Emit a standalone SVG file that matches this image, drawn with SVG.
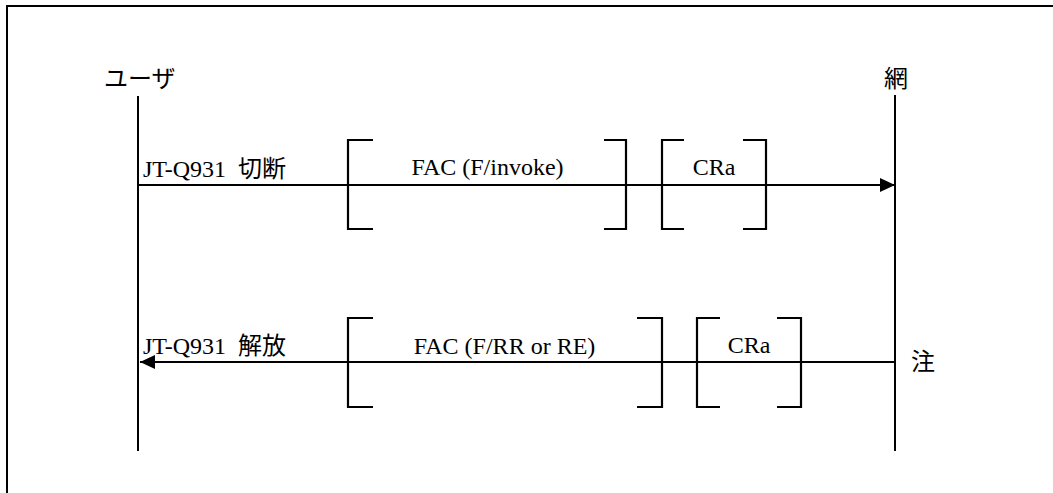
<svg xmlns="http://www.w3.org/2000/svg" width="1053" height="493" viewBox="0 0 1053 493">
<style>
.t{font-family:"Liberation Serif","Noto Sans CJK JP",serif;font-size:24px;fill:#000;white-space:pre}
.m{text-anchor:middle}
.ln{stroke:#000;stroke-width:2;fill:none}
.br{stroke:#000;stroke-width:2.2;fill:none}
</style>
<defs>
<marker id="ah" markerWidth="15" markerHeight="14" refX="15" refY="7" orient="auto" markerUnits="userSpaceOnUse">
<path d="M0,0 L15,7 L0,14 Z" fill="#000"/>
</marker>
</defs>
<rect x="0" y="0" width="1053" height="493" fill="#fff"/>
<g id="frame"><rect x="7" y="6" width="1070" height="520" class="ln"/></g>
<g id="user">
<text class="t" x="104" y="87">ユーザ</text>
<line x1="138" y1="96" x2="138" y2="451" class="ln"/>
</g>
<g id="network">
<text class="t" x="884" y="87">網</text>
<line x1="895" y1="95" x2="895" y2="451" class="ln"/>
</g>
<g id="connectors">
<line x1="138" y1="185" x2="895" y2="185" class="ln" marker-end="url(#ah)"/>
<line x1="895" y1="362" x2="140" y2="362" class="ln" marker-end="url(#ah)"/>
</g>
<g id="msg1">
<text class="t" x="143" y="177">JT-Q931  切断</text>
<path class="br" d="M373,140 H348 V229 H373"/>
<path class="br" d="M604,140 H626 V229 H604"/>
<text class="t m" x="487.5" y="175">FAC (F/invoke)</text>
<path class="br" d="M684,140 H662 V229 H684"/>
<path class="br" d="M743,140 H766 V229 H743"/>
<text class="t m" x="714" y="175">CRa</text>
</g>
<g id="msg2">
<text class="t" x="143" y="354">JT-Q931  解放</text>
<path class="br" d="M373,318 H348 V407 H373"/>
<path class="br" d="M637,318 H662 V407 H637"/>
<text class="t m" x="504.5" y="354">FAC (F/RR or RE)</text>
<path class="br" d="M720,318 H697 V407 H720"/>
<path class="br" d="M777,318 H801 V407 H777"/>
<text class="t m" x="749" y="353">CRa</text>
</g>
<g id="note"><text class="t" x="911" y="370">注</text></g>
</svg>
